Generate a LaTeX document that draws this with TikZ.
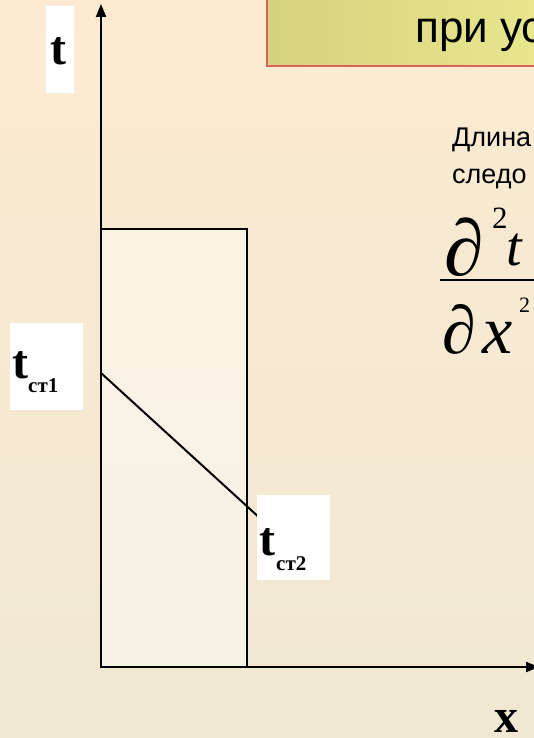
\documentclass[tikz,border=0pt]{standalone}
\usepackage{fontspec}
\setmainfont{Liberation Serif}
\newfontfamily\arial{Liberation Sans}
\usetikzlibrary{arrows.meta}
\definecolor{bgtop}{RGB}{252,235,210}
\definecolor{bgbot}{RGB}{240,232,210}
\definecolor{titleL}{RGB}{212,210,128}
\definecolor{titleR}{RGB}{234,232,142}
\definecolor{titleB}{RGB}{215,100,90}
\tikzset{
  axis/.style={line width=2pt, -{Triangle[width=10pt,length=13pt]}},
  labbox/.style={fill=white, draw=none, inner sep=0pt},
  bigbold/.style={font=\bfseries\fontsize{48}{48}\selectfont, inner sep=0pt},
  subbold/.style={font=\bfseries\fontsize{21}{21}\selectfont, inner sep=0pt},
  sans/.style={font=\arial\fontsize{27}{27}\selectfont, inner sep=0pt},
  mathglyph/.style={inner sep=0pt},
}
\begin{document}
\begin{tikzpicture}[x=1pt,y=-1pt]
\useasboundingbox (0,0) rectangle (534,738);
\clip (0,0) rectangle (534,738);
\shade[top color=bgtop, bottom color=bgbot] (0,0) rectangle (534,738);
% title box
\path[draw=titleB, line width=1.5pt, left color=titleL, right color=titleR] (267,-10) rectangle (560,66);
\node[anchor=base west, font=\arial\fontsize{44}{44}\selectfont, inner sep=0pt] (title) at (415,43) {при ус};
% wall rectangle
\coordinate (o) at (101,667);
\draw[line width=2pt, fill=white, fill opacity=0.45] (101,229) rectangle (247,667);
% temperature line
\coordinate (p1) at (101,373);
\coordinate (p2) at (262,520);
\draw[line width=2pt] (p1) -- (p2);
% axes
\coordinate (ytip) at (101,4);
\coordinate (xtip) at (539,667);
\draw[axis] (o) -- (ytip);
\draw[axis] (o) -- (xtip);
% t label
\node[labbox, minimum width=28pt, minimum height=87pt] (tbox) at (60,49.5) {};
\node[bigbold, anchor=base] (t) at (58.5,65) {t};
% t_st1
\node[labbox, minimum width=73pt, minimum height=87pt] (b1) at (46.5,366.5) {};
\node[bigbold, anchor=base west] (t1) at (12,378) {t};
\node[subbold, anchor=base west] (s1) at (28,392) {ст1};
% t_st2
\node[labbox, minimum width=73pt, minimum height=85pt] (b2) at (293.5,537.5) {};
\node[bigbold, anchor=base west] (t2) at (259,555) {t};
\node[subbold, anchor=base west] (s2) at (276,570) {ст2};
% x label
\node[bigbold, anchor=base west] (xl) at (494,732) {x};
% right text
\node[sans, anchor=base west] (l1) at (452,147) {Длина};
\node[sans, anchor=base west] (l2) at (452,183) {следо};
% fraction
\node[mathglyph, anchor=base west, font=\fontsize{80}{80}\selectfont] (d1) at (444,275) {∂};
\node[mathglyph, anchor=base west, font=\fontsize{31}{31}\selectfont] (n2) at (492,228) {2};
\node[mathglyph, anchor=base west, font=\itshape\fontsize{56}{56}\selectfont] (nt) at (506,265) {t};
\coordinate (fl) at (440,280);
\coordinate (fr) at (540,280);
\draw[line width=2pt] (fl) -- (fr);
\node[mathglyph, anchor=base west, font=\fontsize{68}{68}\selectfont] (d2) at (442,353) {∂};
\node[mathglyph, anchor=base west, font=\itshape\fontsize{68}{68}\selectfont] (dx) at (482,353) {x};
\node[mathglyph, anchor=base west, font=\fontsize{22}{22}\selectfont] (d22) at (519,312) {2};
\end{tikzpicture}
\end{document}
